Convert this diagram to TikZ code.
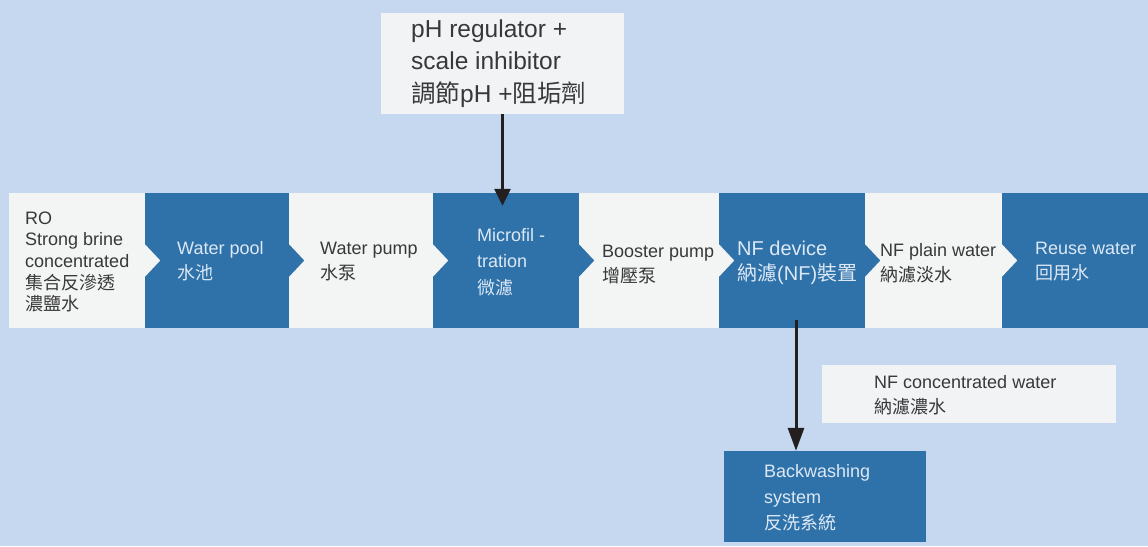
\documentclass[tikz,border=0pt]{standalone}
\usepackage{fontspec}
\setmainfont{Liberation Sans}
\newfontfamily\cjk{Noto Sans CJK TC}
\usetikzlibrary{arrows.meta}
\definecolor{bg}{HTML}{C5D8F0}
\definecolor{blu}{HTML}{2F72A9}
\definecolor{lite}{HTML}{F3F4F4}
\definecolor{topfill}{HTML}{F1F3F5}
\definecolor{ltxt}{HTML}{DCE8F5}
\definecolor{dtxt}{HTML}{383838}
\definecolor{arrc}{HTML}{231F20}
\tikzset{
  lbox/.style={rectangle, draw=none, fill=lite, inner sep=0pt, minimum height=135pt},
  bbox/.style={rectangle, draw=none, fill=blu, inner sep=0pt, minimum height=135pt},
  lab/.style={anchor=base west, inner sep=0pt, font=\fontsize{18}{25}\selectfont},
  dlab/.style={lab, text=dtxt},
  blab/.style={lab, text=ltxt},
  arr/.style={draw=arrc, line width=3pt}
}
\begin{document}
\begin{tikzpicture}[x=1pt, y=-1pt]
\useasboundingbox[fill=bg] (0,0) rectangle (1148,546);
% main row
\node[lbox, minimum width=136pt] (b1) at (77,260.5) {};
\node[bbox, minimum width=144pt] (b2) at (217,260.5) {};
\node[lbox, minimum width=144pt] (b3) at (361,260.5) {};
\node[bbox, minimum width=146pt] (b4) at (506,260.5) {};
\node[lbox, minimum width=140pt] (b5) at (649,260.5) {};
\node[bbox, minimum width=146pt] (b6) at (792,260.5) {};
\node[lbox, minimum width=137pt] (b7) at (933.5,260.5) {};
\node[bbox, minimum width=146pt] (b8) at (1075,260.5) {};
% chevrons
\foreach \b/\c in {b1/lite, b2/blu, b3/lite, b4/blu, b5/lite, b6/blu, b7/lite}{
  \fill[\c] (\b.east) ++(-0.5,-16.5) -- ++(15.5,16.5) -- ++(-15.5,16.5) -- cycle;
}
% texts
\node[dlab, font=\fontsize{18}{21.5}\selectfont] (t1) at (25,224) {\vtop{\baselineskip=21.7pt\hbox{RO}\hbox{Strong brine}\hbox{concentrated}\hbox{\cjk 集合反滲透}\hbox{\cjk 濃鹽水}}};
\node[blab] (t2) at (177,254) {\vtop{\baselineskip=25pt\hbox{Water pool}\hbox{\cjk 水池}}};
\node[dlab] (t3) at (320,254) {\vtop{\baselineskip=25pt\hbox{Water pump}\hbox{\cjk 水泵}}};
\node[blab] (t4) at (477,241) {\vtop{\baselineskip=26.5pt\hbox{Microfil -}\hbox{tration}\hbox{\cjk 微濾}}};
\node[dlab] (t5) at (602,257) {\vtop{\baselineskip=25pt\hbox{Booster pump}\hbox{\cjk 增壓泵}}};
\node[blab, font=\fontsize{20}{25}\selectfont] (t6) at (737,255) {\vtop{\baselineskip=25pt\hbox{NF device}\hbox{{\cjk 納濾}(NF){\cjk 裝置}}}};
\node[dlab] (t7) at (880,256) {\vtop{\baselineskip=25pt\hbox{NF plain water}\hbox{\cjk 納濾淡水}}};
\node[blab] (t8) at (1035,254) {\vtop{\baselineskip=25pt\hbox{Reuse water}\hbox{\cjk 回用水}}};
% top box
\node[rectangle, fill=topfill, inner sep=0pt, minimum width=243pt, minimum height=101pt] (top) at (502.5,63.5) {};
\node[dlab, font=\fontsize{24.5}{32.5}\selectfont] (ttop) at (411,37) {\vtop{\baselineskip=32.5pt\hbox{pH regulator +}\hbox{scale inhibitor}\hbox{{\cjk 調節}pH +{\cjk 阻垢劑}}}};
% NF concentrated water
\node[rectangle, fill=topfill, inner sep=0pt, minimum width=294pt, minimum height=58pt] (nfc) at (969,394) {};
\node[dlab] (tnfc) at (874,388) {\vtop{\baselineskip=25pt\hbox{NF concentrated water}\hbox{\cjk 納濾濃水}}};
% backwashing
\node[bbox, minimum width=202pt, minimum height=91pt] (back) at (825,496.5) {};
\node[blab] (tback) at (764,477) {\vtop{\baselineskip=26pt\hbox{Backwashing}\hbox{system}\hbox{\cjk 反洗系統}}};
% arrows
\draw[arr, -{Triangle[width=16pt,length=17pt]}, shorten >=-13pt] (top.south) -- (top.south |- b4.north);
\draw[arr, -{Triangle[width=16pt,length=23pt]}, shorten <=-8pt] ([xshift=4pt]b6.south) -- ([xshift=4pt]b6.south |- back.north);
\end{tikzpicture}
\end{document}
